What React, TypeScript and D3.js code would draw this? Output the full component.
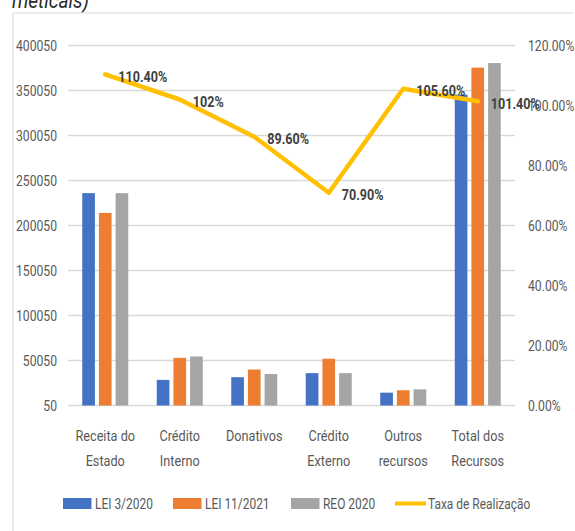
import React from "react";
import * as d3 from "d3";

const categories = [
  ["Receita do", "Estado"],
  ["Crédito", "Interno"],
  ["Donativos"],
  ["Crédito", "Externo"],
  ["Outros", "recursos"],
  ["Total dos", "Recursos"],
];
const seriesNames = ["LEI 3/2020", "LEI 11/2021", "REO 2020"];
const lei2020 = [236000, 28500, 31500, 36000, 14300, 345500];
const lei2021 = [214000, 53000, 40000, 52000, 17000, 375500];
const reo2020 = [236000, 54500, 35000, 36000, 18000, 380500];
const taxa = [1.104, 1.02, 0.896, 0.709, 1.056, 1.014];
const taxaLabels = ["110.40%", "102%", "89.60%", "70.90%", "105.60%", "101.40%"];
const leftTicks = [50, 50050, 100050, 150050, 200050, 250050, 300050, 350050, 400050];
const rightTicks = [0, 0.2, 0.4, 0.6, 0.8, 1.0, 1.2];
const lineName = "Taxa de Realização";

const colors = ["#4472C4", "#ED7D31", "#A5A5A5"];
const lineColor = "#FFC000";
const FONT = "Roboto, 'Noto Sans', sans-serif";
const SX = 0.8;

type TProps = {
  x: number;
  y: number;
  anchor?: "start" | "middle" | "end";
  size?: number;
  weight?: string;
  fill?: string;
  sx?: number;
  children: React.ReactNode;
};

function T({ x, y, anchor = "start", size = 15, weight = "normal", fill = "#595959", sx = SX, children }: TProps) {
  return (
    <text
      transform={`translate(${x},${y}) scale(${sx},1)`}
      dy="0.36em"
      textAnchor={anchor}
      fontSize={size}
      fontWeight={weight}
      fill={fill}
    >
      {children}
    </text>
  );
}

export default function App() {
  const W = 575, H = 531;
  const x0 = 68, x1 = 515, yTop = 45.5, yBot = 405.5;
  const catKeys = categories.map((_, i) => String(i));
  const xBand = d3.scaleBand().domain(catKeys).range([x0, x1]).padding(0);
  const groupW = 46;
  const inner = d3.scaleBand().domain(seriesNames).range([0, groupW]).paddingInner(0.24);
  const yL = d3.scaleLinear().domain([50, 400050]).range([yBot, yTop]);
  const yR = d3.scaleLinear().domain([0, 1.2]).range([yBot, yTop]);
  const series = [lei2020, lei2021, reo2020];
  const cx = (i: number) => (xBand(String(i)) as number) + xBand.bandwidth() / 2;
  const line = d3
    .line<number>()
    .x((_, i) => cx(i))
    .y((d) => yR(d));
  const pctFmt = d3.format(".2%");

  const legendItems = [
    { label: seriesNames[0], x: 63, type: "rect", color: colors[0] },
    { label: seriesNames[1], x: 173, type: "rect", color: colors[1] },
    { label: seriesNames[2], x: 291, type: "rect", color: colors[2] },
    { label: lineName, x: 395, type: "line", color: lineColor },
  ];

  return (
    <svg width={W} height={H} style={{ position: "absolute", left: 0, top: 0, background: "#fff" }} fontFamily={FONT}>
      <rect x={0} y={0} width={W} height={H} fill="#fff" />
      <text transform={`translate(12,7.5) scale(0.85,1)`} fontSize={22.5} fontStyle="italic" fill="#2b2b2b">meticais)</text>
      {/* frame */}
      <line x1={13} x2={573} y1={13} y2={13} stroke="#d9d9d9" strokeWidth={1.2} />
      <line x1={13} x2={13} y1={13} y2={H} stroke="#d9d9d9" strokeWidth={1.2} />
      {/* gridlines */}
      {leftTicks.map((t) => (
        <line key={t} x1={x0} x2={x1} y1={yL(t)} y2={yL(t)} stroke="#d9d9d9" strokeWidth={1.5} />
      ))}
      {/* left labels */}
      {leftTicks.map((t) => (
        <T key={"l" + t} x={57} y={yL(t)} anchor="end" size={14.5} sx={0.84}>
          {t}
        </T>
      ))}
      {rightTicks.map((t) => (
        <T key={"r" + t} x={528} y={yR(t)} size={14.5} sx={0.84}>
          {pctFmt(t)}
        </T>
      ))}
      {/* bars */}
      {series.map((vals, s) =>
        vals.map((v, i) => {
          const bx = cx(i) - groupW / 2 + (inner(seriesNames[s]) as number);
          return (
            <rect
              key={s + "-" + i}
              x={bx}
              y={yL(v)}
              width={inner.bandwidth()}
              height={yBot - yL(v)}
              fill={colors[s]}
            />
          );
        })
      )}
      {/* line */}
      <path d={line(taxa) || ""} fill="none" stroke={lineColor} strokeWidth={4.5} strokeLinejoin="round" strokeLinecap="round" />
      {taxa.map((v, i) => (
        <T key={"dl" + i} x={cx(i) + 13} y={yR(v) + 2} size={15} weight="bold" fill="#404040" sx={0.84}>
          {taxaLabels[i]}
        </T>
      ))}
      {/* category labels */}
      {categories.map((lines, i) =>
        lines.map((t, j) => (
          <T key={"c" + i + j} x={cx(i)} y={435 + j * 25} anchor="middle" size={15.5} sx={0.82}>
            {t}
          </T>
        ))
      )}
      {/* legend */}
      {legendItems.map((it) => (
        <g key={it.label}>
          {it.type === "rect" ? (
            <rect x={it.x} y={498} width={28.5} height={11} fill={it.color} />
          ) : (
            <line x1={it.x} x2={it.x + 31} y1={503.5} y2={503.5} stroke={it.color} strokeWidth={4} />
          )}
          <T x={it.x + (it.type === "rect" ? 32 : 33)} y={503.5} size={15.5} sx={0.77}>
            {it.label}
          </T>
        </g>
      ))}
    </svg>
  );
}
